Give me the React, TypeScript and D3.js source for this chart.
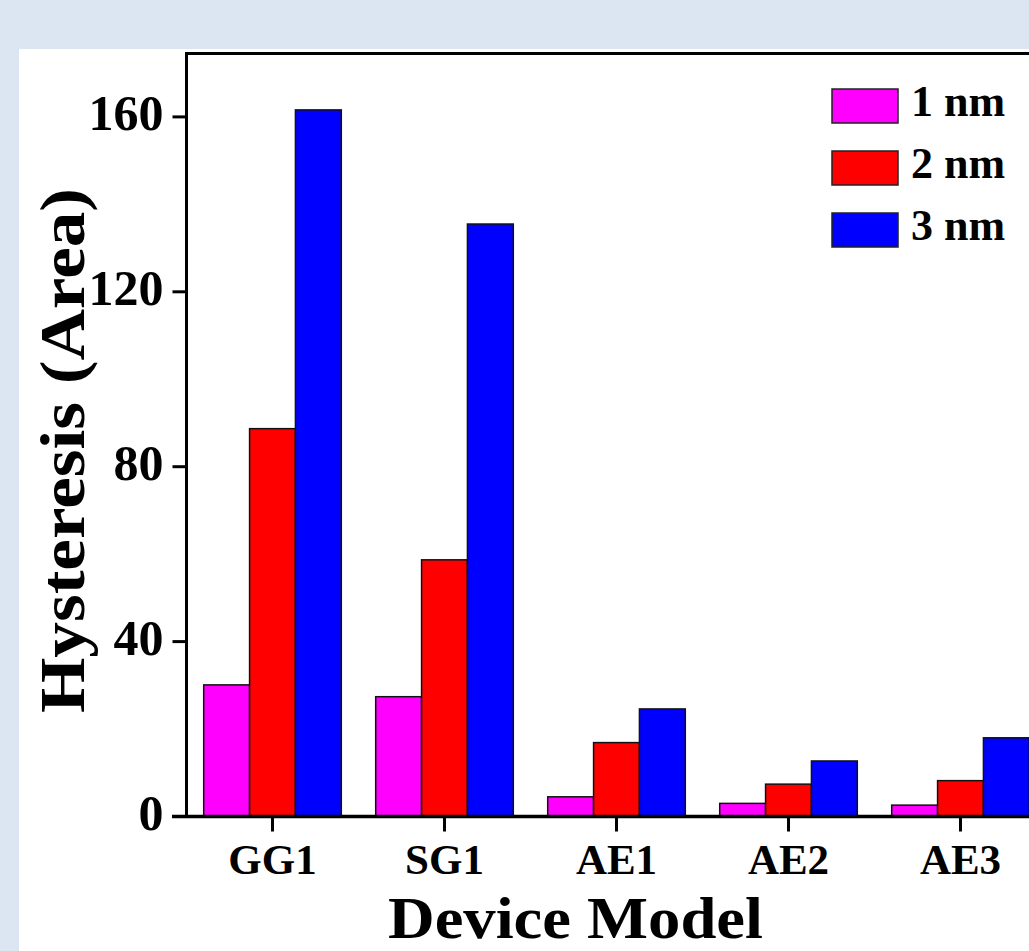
import { scaleBand, scaleLinear } from 'd3'

const devices = ['GG1', 'SG1', 'AE1', 'AE2', 'AE3']
const seriesNames = ['1 nm', '2 nm', '3 nm']
const oneNm = [30.1, 27.4, 4.5, 3.0, 2.6]
const twoNm = [88.7, 58.7, 16.9, 7.4, 8.2]
const threeNm = [161.6, 135.5, 24.6, 12.7, 18.0]
const yTicks = [0, 40, 80, 120, 160]

const colors = ['#ff00ff', '#ff0000', '#0000ff']
const values = [oneNm, twoNm, threeNm]

const width = 1029,
      height = 951,
      font = "'Liberation Serif', 'Times New Roman', serif",
      left = 186.5,
      right = 1046.5,
      top = 53.5,
      bottom = 816.5

const xScale = scaleBand<string>()
  .domain(devices)
  .range([left, right])
  .paddingInner(0.2)
  .paddingOuter(0.1)

const subScale = scaleBand<string>()
  .domain(seriesNames)
  .range([0, xScale.bandwidth()])

const yScale = scaleLinear()
  .domain([0, 174.5])
  .range([bottom, top])

const AxisLeft = () => (
  <g>
    {yTicks.map(t => (
      <g key={t} transform={`translate(${left}, ${yScale(t)})`}>
        <line x1={-14} x2={0} stroke='#000' strokeWidth={3} />
        <text x={-23} dy='0.27em' textAnchor='end' fontSize={50} fontWeight='bold' fontFamily={font}>{t}</text>
      </g>
    ))}
  </g>
)

const AxisBottom = () => (
  <g>
    {devices.map(d => {
      const cx = xScale(d)! + xScale.bandwidth() / 2
      return (
        <g key={d} transform={`translate(${cx}, ${bottom})`}>
          <line y1={0} y2={15} stroke='#000' strokeWidth={3} />
          <text y={57} textAnchor='middle' fontSize={43} fontWeight='bold' fontFamily={font}>{d}</text>
        </g>
      )
    })}
  </g>
)

const Bars = () => (
  <g>
    {devices.map((d, i) => (
      <g key={d} transform={`translate(${xScale(d)}, 0)`}>
        {seriesNames.map((s, j) => (
          <rect
            key={s}
            x={subScale(s)}
            y={yScale(values[j][i])}
            width={subScale.bandwidth()}
            height={bottom - yScale(values[j][i])}
            fill={colors[j]}
            stroke='#111'
            strokeWidth={1.5}
          />
        ))}
      </g>
    ))}
  </g>
)

const Legend = () => (
  <g transform='translate(832, 89)'>
    {seriesNames.map((s, j) => (
      <g key={s} transform={`translate(0, ${j * 62})`}>
        <rect width={66} height={34} fill={colors[j]} stroke='#222' strokeWidth={1.5} />
        <text x={79} y={27} fontSize={44} fontWeight='bold' fontFamily={font}>{s}</text>
      </g>
    ))}
  </g>
)

export default function App() {
  return (
    <svg
      width={width}
      height={height}
      style={{ position: 'absolute', left: 0, top: 0, display: 'block' }}
    >
      <rect width={width} height={height} fill='#dce6f2' />
      <rect x={19} y={49} width={width - 19} height={height - 49} fill='#ffffff' />

      <Bars />

      {/* frame */}
      <rect x={left} y={top} width={right - left} height={bottom - top} fill='none' stroke='#000' strokeWidth={3} />
      <line x1={172} x2={right} y1={bottom} y2={bottom} stroke='#000' strokeWidth={3.5} />

      <AxisLeft />
      <AxisBottom />
      <Legend />

      <text
        x={575.5}
        y={937.5}
        textAnchor='middle'
        fontSize={60}
        fontWeight='bold'
        fontFamily={font}
        textLength={375}
        lengthAdjust='spacingAndGlyphs'
      >Device Model</text>

      <text
        transform='translate(84, 450.5) rotate(-90)'
        textAnchor='middle'
        fontSize={64}
        fontWeight='bold'
        fontFamily={font}
        textLength={525}
        lengthAdjust='spacingAndGlyphs'
      >Hysteresis (Area)</text>
    </svg>
  )
}
